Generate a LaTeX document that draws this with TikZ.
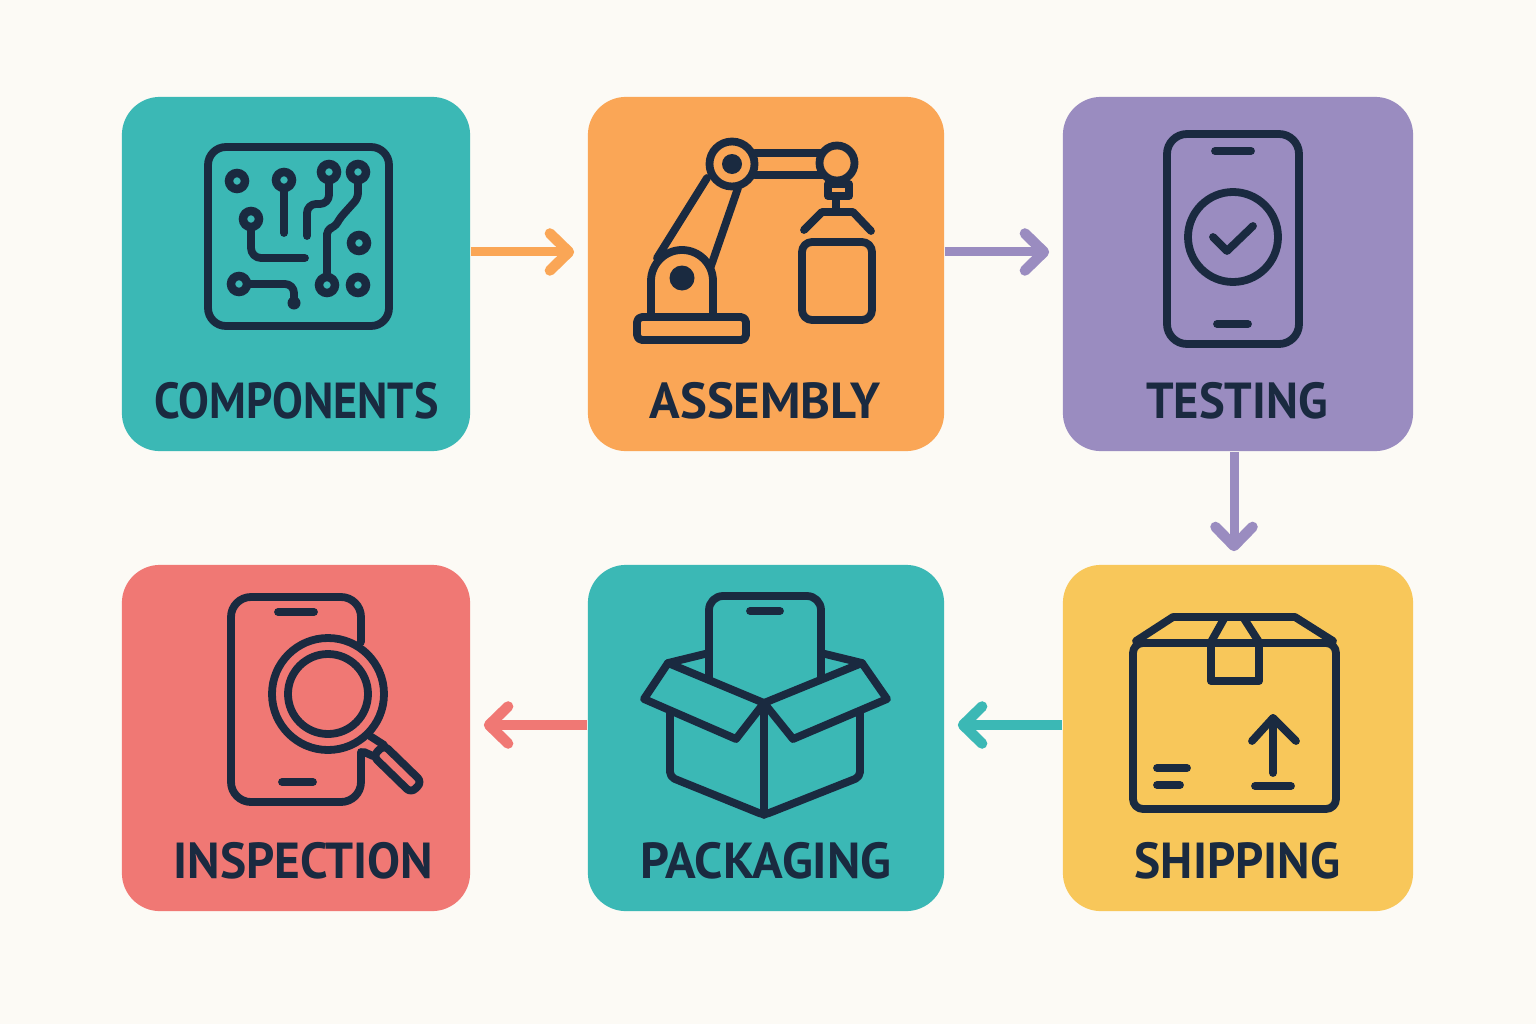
\documentclass[tikz,border=0pt]{standalone}
\usepackage{fontspec}
\setsansfont{PT Sans}
\usetikzlibrary{arrows.meta}
\definecolor{pagebg}{HTML}{FCFAF5}
\definecolor{inkblue}{HTML}{1A2A40}
\definecolor{cardteal}{HTML}{3BB8B5}
\definecolor{cardorange}{HTML}{FAA656}
\definecolor{cardpurple}{HTML}{9A8CC0}
\definecolor{cardyellow}{HTML}{F8C75A}
\definecolor{cardred}{HTML}{F07874}
\tikzset{
	card/.style={rounded corners=0.38cm,inner sep=0pt,minimum width=3.48cm,minimum height=3.54cm},
	cardlabel/.style={text=inkblue,font=\sffamily\bfseries\fontsize{14.4}{16}\selectfont,inner sep=0pt},
	squeezed/.style={transform shape,xscale=#1},
	icon/.style={draw=inkblue,line width=0.078cm,line cap=round,line join=round},
	pad/.style={draw=inkblue,line width=0.085cm},
	flow/.style={line width=0.09cm,shorten >=0.13cm,-{Straight Barb[round,length=0.19cm,width=0.37cm,line width=0.105cm]}}
}
\begin{document}
\begin{tikzpicture}[x=0.01cm,y=-0.01cm]
		\fill [pagebg] (0,0) rectangle (1536,1024);
		\useasboundingbox (0,0) rectangle (1536,1024);
		% the six cards
		\node [card,fill=cardteal] (components) at (296,274) {};
		\node [card,fill=cardorange,minimum width=3.56cm] (assembly) at (766,274) {};
		\node [card,fill=cardpurple,minimum width=3.50cm] (testing) at (1238,274) {};
		\node [card,fill=cardred,minimum height=3.46cm] (inspection) at (296,738) {};
		\node [card,fill=cardteal,minimum width=3.56cm,minimum height=3.46cm] (packaging) at (766,738) {};
		\node [card,fill=cardyellow,minimum width=3.50cm,minimum height=3.46cm] (shipping) at (1238,738) {};
		\node [cardlabel,squeezed=0.91] (componentslabel) at (296.5,401) {COMPONENTS};
		\node [cardlabel] (assemblylabel) at (765,401) {ASSEMBLY};
		\node [cardlabel,squeezed=0.96] (testinglabel) at (1237,401) {TESTING};
		\node [cardlabel,squeezed=0.975] (inspectionlabel) at (303.5,861) {INSPECTION};
		\node [cardlabel] (packaginglabel) at (766,861) {PACKAGING};
		\node [cardlabel,squeezed=0.975] (shippinglabel) at (1237.5,861) {SHIPPING};
		% connectors
		\draw [flow,cardorange] ([yshift=0.22cm]components.east) -- ([yshift=0.22cm]assembly.west);
		\draw [flow,cardpurple] ([yshift=0.22cm]assembly.east) -- ([yshift=0.22cm]testing.west);
		\draw [flow,cardpurple] ([xshift=-0.04cm]testing.south) -- ([xshift=-0.04cm]shipping.north);
		\draw [flow,cardteal] ([yshift=0.13cm]shipping.west) -- ([yshift=0.13cm]packaging.east);
		\draw [flow,cardred] ([yshift=0.13cm]packaging.west) -- ([yshift=0.13cm]inspection.east);
		% circuit board
		\draw [icon,rounded corners=0.18cm] (208,147) rectangle (389,326);
		\foreach \x/\y in {237/181,284/180,329/172,358/172,251/219,359/243,327/285,358/285,239/284}{
			\draw [pad] (\x,\y) circle (8);
		}
		\draw [icon] (284,188) -- (284,233);
		\draw [icon,rounded corners=0.09cm] (329,180) -- (329,204) -- (307,204) -- (307,236);
		\draw [icon,rounded corners=0.05cm] (358,180) -- (358,198) -- (340,218) -- (335,227) -- (327,229) -- (327,277);
		\draw [icon,rounded corners=0.1cm] (251,227) -- (251,258) -- (305,258);
		\draw [icon,rounded corners=0.09cm] (247,284) -- (294,284) -- (294,303);
		\fill [inkblue] (294,303) circle (6.5);
		% robot arm
		\draw [icon] (637,317) [rounded corners=0.05cm] rectangle (746,340);
		\draw [icon] (651,317) -- (651,281) arc (180:360:31) -- (713,317);
		\fill [inkblue] (682,278) circle (12.5);
		\draw [icon] (707,178) -- (657,258);
		\draw [icon] (738,188) -- (711,266);
		\draw [icon] (732,164) circle (22.5);
		\fill [inkblue] (732,164) circle (10);
		\draw [icon] (755,153) -- (822,153);
		\draw [icon] (755,175) -- (822,175);
		\draw [icon] (837,163) circle (17.5);
		\draw [icon] (828,184) rectangle (849,196);
		\draw [icon] (836,198) -- (836,212);
		\draw [icon] (804,230) -- (822,212) -- (853,212) -- (871,231);
		\draw [icon,rounded corners=0.1cm] (802,242) rectangle (872,320);
		% phone with check mark
		\draw [icon,rounded corners=0.2cm] (1167,134) rectangle (1299,344);
		\draw [icon] (1215,151) -- (1251,151);
		\draw [icon] (1217,324) -- (1248,324);
		\draw [icon] (1233,237) circle (45);
		\draw [icon] (1213,237) -- (1227,251) -- (1253,226);
		% parcel
		\draw [icon,rounded corners=0.1cm] (1133,643) rectangle (1336,809);
		\draw [icon] (1136,641) -- (1173,617) -- (1295,617) -- (1333,641);
		\draw [icon] (1211,642) -- (1225,617);
		\draw [icon] (1259,642) -- (1243,617);
		\draw [icon] (1211,643) rectangle (1259,681);
		\draw [icon] (1273,773) -- (1273,718);
		\draw [icon] (1252,741) -- (1273,718) -- (1296,741);
		\draw [icon] (1255,786) -- (1291,786);
		\draw [icon] (1157,768) -- (1187,768);
		\draw [icon] (1157,785) -- (1180,785);
		% box with phone
		\draw [icon,rounded corners=0.14cm] (709,678) -- (709,596) -- (821,596) -- (821,678);
		\draw [icon] (750,611) -- (780,611);
		\draw [icon] (709,653) -- (668,663);
		\draw [icon] (821,653) -- (862,663);
		\draw [icon] (668,663) -- (764,703) -- (736,739) -- (644,699) -- cycle;
		\draw [icon] (862,663) -- (764,703) -- (793,739) -- (887,699) -- cycle;
		\draw [icon,rounded corners=0.05cm] (670,713) -- (670,777) -- (764,815) -- (860,777) -- (860,713);
		\draw [icon] (764,703) -- (764,815);
		% phone with lens
		\draw [icon,rounded corners=0.2cm] (361,642) -- (361,597) -- (231,597) -- (231,802) -- (361,802) -- (361,752);
		\draw [icon] (278,612) -- (314,612);
		\draw [icon] (282,782) -- (313,782);
		\draw [icon] (328,694) circle (56);
		\draw [icon] (328,694) circle (40);
		\draw [icon] (370,736) -- (384,745);
		\draw [icon] (364,752) -- (373,756);
		\draw [icon,rounded corners=0.06cm] (384,745) -- (422,782) -- (411,793) -- (373,756) -- cycle;
\end{tikzpicture}
\end{document}
